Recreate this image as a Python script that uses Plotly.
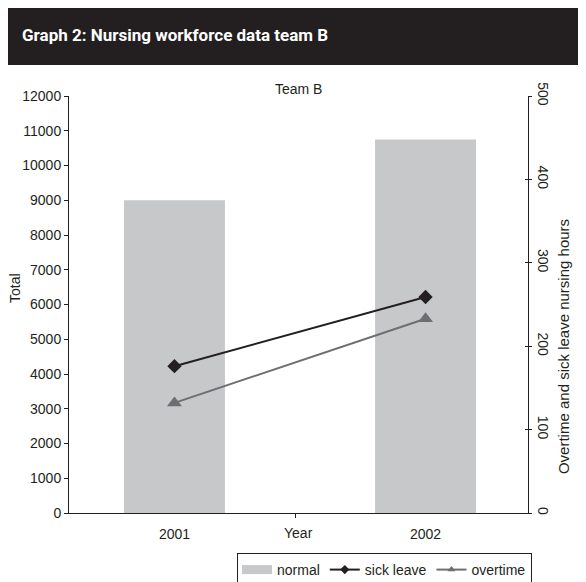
import plotly.graph_objects as go

years = ["2001", "2002"]
normal = [9000, 10750]
sick_leave = [176, 259]
overtime = [132, 233]

x = list(range(len(years)))
DARK = "#231f20"
GREY = "#6d6e71"
BAR = "#c7c8ca"
FONT = "Liberation Sans, Arial, sans-serif"
TITLE_FONT = "Roboto, Liberation Sans, sans-serif"

fig = go.Figure()
fig.add_trace(go.Bar(x=x, y=normal, name="normal", marker=dict(color=BAR, line=dict(width=0)),
                     width=0.402, yaxis="y", legendgroup="normal", showlegend=False))
fig.add_trace(go.Scatter(x=x, y=sick_leave, name="sick leave", mode="lines+markers",
                         line=dict(color=DARK, width=2), legendgroup="sick", showlegend=False,
                         marker=dict(symbol="diamond", size=11, color=DARK), yaxis="y2"))
fig.add_trace(go.Scatter(x=x, y=overtime, name="overtime", mode="lines+markers",
                         line=dict(color=GREY, width=2), legendgroup="over", showlegend=False,
                         marker=dict(symbol="triangle-up", size=13, color=GREY), yaxis="y2"))

# legend-only entries (smaller legend symbols, as in the reference)
fig.add_trace(go.Scatter(x=[None], y=[None], name="normal", mode="lines", legendgroup="normal",
                         line=dict(color=BAR, width=9), yaxis="y", hoverinfo="skip"))
fig.add_trace(go.Scatter(x=[None], y=[None], name="sick leave", mode="lines+markers",
                         legendgroup="sick", line=dict(color=DARK, width=2),
                         marker=dict(symbol="diamond", size=7, color=DARK), yaxis="y2",
                         hoverinfo="skip"))
fig.add_trace(go.Scatter(x=[None], y=[None], name="overtime", mode="lines+markers",
                         legendgroup="over", line=dict(color=GREY, width=2),
                         marker=dict(symbol="triangle-up", size=7, color=GREY), yaxis="y2",
                         hoverinfo="skip"))
# activates yaxis3 (inside ticks so the right axis ticks cross the line)
fig.add_trace(go.Scatter(x=[None], y=[None], yaxis="y3", showlegend=False, hoverinfo="skip"))

# The page body has an 8px margin; the figure is sized/offset to compensate.
fig.update_layout(
    width=578, height=574,
    margin=dict(l=61, r=58, t=88, b=69, autoexpand=False),
    plot_bgcolor="white", paper_bgcolor="white",
    font=dict(family=FONT, size=14, color=DARK),
    xaxis=dict(range=[-0.42, 1.408], tickvals=x, ticktext=years, ticks="",
               ticklabelstandoff=8,
               showline=True, linecolor=DARK, linewidth=1, showgrid=False, zeroline=False,
               minor=dict(tickvals=[0.483], ticks="outside", ticklen=4, tickcolor=DARK,
                          showgrid=False),
               tickfont=dict(size=14)),
    yaxis=dict(range=[0, 12000], dtick=1000, tickformat="d", ticks="outside", ticklen=4,
               tickcolor=DARK, showline=True, linecolor=DARK, linewidth=1, showgrid=False,
               zeroline=False, tickfont=dict(size=14)),
    yaxis2=dict(overlaying="y", side="right", range=[0, 500], dtick=100, ticks="outside",
                ticklen=3, tickcolor=DARK, tickangle=90, showline=True, linecolor=DARK,
                linewidth=1, showgrid=False, zeroline=False, tickfont=dict(size=14)),
    yaxis3=dict(overlaying="y", side="right", anchor="x", range=[0, 500], dtick=100,
                ticks="inside", ticklen=3, tickcolor=DARK, showticklabels=False,
                showline=False, showgrid=False, zeroline=False),
    legend=dict(orientation="h", x=0.366, xanchor="left", y=-0.0959, yanchor="top",
                bordercolor=DARK, borderwidth=1, font=dict(size=14)),
    showlegend=True,
)

fig.add_shape(type="rect", xref="paper", yref="paper", x0=-0.14, x1=1.14, y0=1.0743, y1=1.24,
              fillcolor=DARK, line=dict(width=0), layer="above")

fig.add_annotation(text="<b>Graph 2: Nursing workforce data team B</b>", xref="paper",
                   yref="paper", x=-0.1068, y=1.1463, xanchor="left", yanchor="middle",
                   showarrow=False, font=dict(family=TITLE_FONT, size=17, color="white"))
fig.add_annotation(text="Team B", xref="paper", yref="paper", x=0.499, y=1.0168,
                   xanchor="center", yanchor="middle", showarrow=False, font=dict(size=14))
fig.add_annotation(text="Total", xref="paper", yref="paper", x=-0.1176, y=0.5396,
                   xanchor="center", yanchor="middle", textangle=-90, showarrow=False)
fig.add_annotation(text="Overtime and sick leave nursing hours", xref="paper", yref="paper",
                   x=1.0763, y=0.398, xanchor="center", yanchor="middle", textangle=-90,
                   showarrow=False, font=dict(size=15))
fig.add_annotation(text="Year", xref="paper", yref="paper", x=0.499, y=-0.048,
                   xanchor="center", yanchor="middle", showarrow=False)

fig.write_html("out.html")
